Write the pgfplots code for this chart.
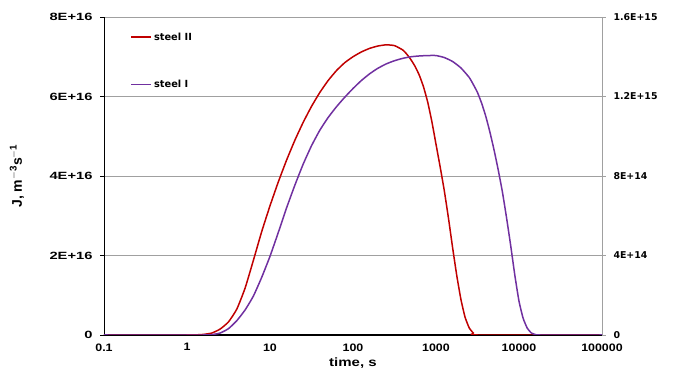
\documentclass[border=0pt]{standalone}
\usepackage{fontspec}
\setmainfont{Liberation Sans}
\newfontfamily\yfont[FakeStretch=1.4]{Liberation Sans}
\newfontfamily\xfont[FakeStretch=1.15]{Liberation Sans}
\newfontfamily\lblfont[FakeStretch=1.25]{Liberation Sans}
\newfontfamily\dvfont{DejaVu Sans}
\usepackage{pgfplots}
\pgfplotsset{compat=1.18}
\definecolor{steelred}{RGB}{192,0,0}
\definecolor{steelpurple}{RGB}{112,48,160}
\definecolor{gridgray}{RGB}{160,160,160}
\pgfplotstableread{
x y
0.1 0
1 0
1.259 0.003
1.585 0.015
1.995 0.05
2.512 0.15
3.162 0.33
3.981 0.65
5.012 1.18
6.31 1.88
7.943 2.6
10 3.25
12.59 3.85
15.85 4.4
19.95 4.9
25.12 5.35
31.62 5.75
39.81 6.1
50.12 6.4
63.1 6.65
79.43 6.85
100 7.0
125.9 7.12
158.5 7.21
199.5 7.27
251.2 7.30
316.2 7.28
398.1 7.17
446.7 7.06
501.2 6.92
562.3 6.75
631 6.53
707.9 6.24
794.3 5.86
891.3 5.37
1000 4.8
1122 4.23
1259 3.63
1413 2.94
1585 2.2
1778 1.5
1995 0.9
2239 0.45
2512 0.18
2818 0.05
3162 0
100000 0
}\steelII
\pgfplotstableread{
x y
0.1 0
1.585 0
1.995 0.002
2.512 0.01
3.162 0.032
3.981 0.072
5.012 0.126
6.31 0.196
7.943 0.29
10 0.396
12.59 0.516
15.85 0.64
19.95 0.754
25.12 0.86
31.62 0.952
39.81 1.03
50.12 1.094
63.1 1.148
79.43 1.196
100 1.24
125.9 1.28
158.5 1.314
199.5 1.342
251.2 1.364
316.2 1.38
398.1 1.392
501.2 1.4
631 1.404
794.3 1.406
1000 1.406
1259 1.396
1585 1.376
1995 1.344
2512 1.296
2818 1.26
3162 1.22
3548 1.166
3981 1.1
4467 1.02
5012 0.93
5623 0.83
6310 0.72
7079 0.59
7943 0.45
8913 0.3
10000 0.17
11220 0.084
12590 0.034
14130 0.01
15850 0.002
17780 0
100000 0
}\steelI
\begin{document}
\begin{tikzpicture}
\path[use as bounding box] (-104pt,-39pt) rectangle (572pt,335pt);
\begin{axis}[
  scale only axis, width=498pt, height=318pt,
  at={(0,0)}, anchor=south west,
  xmode=log, log basis x=10,
  xmin=0.1, xmax=100000, ymin=0, ymax=8,
  xtick={0.1,1,10,100,1000,10000,100000},
  xticklabels={0.1,1,10,100,1000,10000,100000},
  ytick={0,2,4,6,8},
  yticklabels={0,2E+16,4E+16,6E+16,8E+16},
  ymajorgrids, grid style={gridgray, line width=0.6pt},
  axis y line*=left, axis x line*=bottom,
  x axis line style={-, black, line width=1.1pt},
  y axis line style={-, black, line width=0.6pt},
  xtick style={draw=none}, xminorticks=false,
  ytick style={black, line width=0.6pt},
  tick align=outside, major tick length=4pt,
  xticklabel style={font=\xfont\bfseries\fontsize{10.8}{12}\selectfont, yshift=-1pt},
  yticklabel style={font=\yfont\bfseries\fontsize{10.5}{12}\selectfont, xshift=-4pt},
  xlabel={time, s},
  xlabel style={font=\lblfont\bfseries\fontsize{12}{14}\selectfont, at={(axis description cs:0.5,-0.088)}, anchor=center},
  ylabel={J, m$^{\mathbf{-3}}$s$^{\mathbf{-1}}$},
  ylabel style={font=\bfseries\fontsize{14}{16}\selectfont, at={(axis description cs:-0.1747,0.5)}, anchor=center},
  legend style={draw=none, fill=none, at={(0.053,0.937)}, anchor=west, inner sep=0pt,
    font=\dvfont\bfseries\fontsize{9.8}{11}\selectfont},
  legend image code/.code={\draw[#1, line width=1.5pt] (0pt,0pt) -- (20pt,0pt);},
]
\addplot[steelred, line width=1.5pt, smooth, tension=0.3] table[x=x,y=y] {\steelII};
\addlegendentry{steel II}
\end{axis}
\begin{axis}[
  scale only axis, width=498pt, height=318pt,
  at={(0,0)}, anchor=south west,
  xmode=log, log basis x=10,
  xmin=0.1, xmax=100000, ymin=0, ymax=1.6,
  axis x line=none, axis y line*=right,
  ytick={0,0.4,0.8,1.2,1.6},
  yticklabels={0,4E+14,8E+14,1.2E+15,1.6E+15},
  y axis line style={-, gridgray, line width=0.6pt},
  ytick style={gridgray, line width=0.6pt},
  tick align=outside, major tick length=4pt,
  yticklabel style={font=\dvfont\bfseries\fontsize{9.4}{11}\selectfont, xshift=4pt},
  legend style={draw=none, fill=none, at={(0.053,0.787)}, anchor=west, inner sep=0pt,
    font=\dvfont\bfseries\fontsize{9.8}{11}\selectfont},
  legend image code/.code={\draw[#1, line width=1.5pt] (0pt,0pt) -- (20pt,0pt);},
]
\addplot[steelpurple, line width=1.5pt, smooth, tension=0.3] table[x=x,y=y] {\steelI};
\addlegendentry{steel I}
\end{axis}
\end{tikzpicture}
\end{document}
